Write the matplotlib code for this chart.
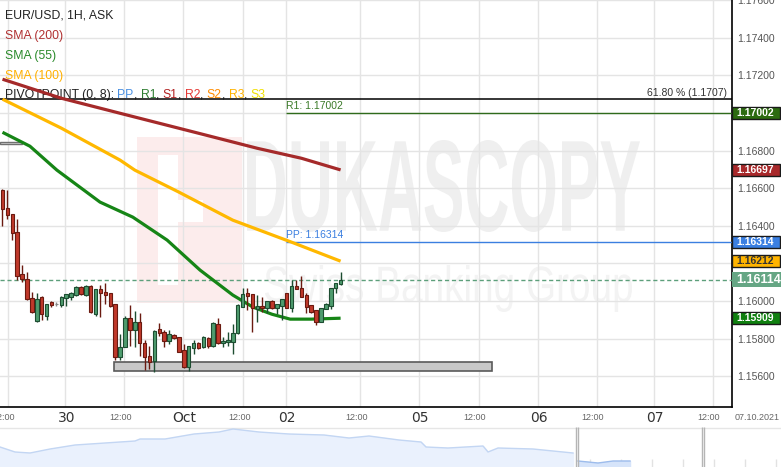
import matplotlib
matplotlib.use("Agg")
import matplotlib.pyplot as plt
from matplotlib.patches import Rectangle, PathPatch
from matplotlib.textpath import TextPath
from matplotlib.font_manager import FontProperties
import matplotlib.transforms as mtransforms

# hourly candles, EUR/USD 1H ask
opens = [1.16589, 1.16494, 1.16462, 1.16366, 1.16143, 1.16117, 1.16016, 1.15894, 1.16021, 1.15920,
         1.15995, 1.15984, 1.15979, 1.16016, 1.16021, 1.16032, 1.16074, 1.16032, 1.16080, 1.15931,
         1.16064, 1.16048, 1.16042, 1.15984, 1.15703, 1.15756, 1.15910, 1.15846, 1.15888, 1.15777,
         1.15708, 1.15681, 1.15851, 1.15835, 1.15788, 1.15819, 1.15809, 1.15740, 1.15650, 1.15750,
         1.15777, 1.15756, 1.15804, 1.15761, 1.15878, 1.15777, 1.15782, 1.15782, 1.15830, 1.15968,
         1.16042, 1.16037, 1.15958, 1.15973, 1.15963, 1.16000, 1.15963, 1.15973, 1.16042, 1.15963,
         1.16080, 1.16069, 1.16032, 1.15979, 1.15952, 1.15888, 1.15958, 1.15973, 1.16069, 1.16090]
highs = [1.16595, 1.16589, 1.16462, 1.16435, 1.16191, 1.16154, 1.16048, 1.16042, 1.16027, 1.15984,
         1.16000, 1.15995, 1.16027, 1.16037, 1.16048, 1.16080, 1.16080, 1.16085, 1.16085, 1.16064,
         1.16085, 1.16096, 1.16042, 1.15984, 1.15825, 1.15920, 1.15979, 1.15947, 1.15936, 1.15793,
         1.15761, 1.15846, 1.15883, 1.15846, 1.15846, 1.15825, 1.15809, 1.15772, 1.15761, 1.15793,
         1.15782, 1.15814, 1.15809, 1.15888, 1.15910, 1.15809, 1.15835, 1.15878, 1.15984, 1.16069,
         1.16069, 1.16037, 1.16032, 1.16021, 1.16000, 1.16005, 1.15984, 1.16011, 1.16042, 1.16112,
         1.16112, 1.16133, 1.16042, 1.15979, 1.15952, 1.15963, 1.15989, 1.16069, 1.16096, 1.16154]
lows = [1.16398, 1.16435, 1.16324, 1.16112, 1.16101, 1.16005, 1.15936, 1.15888, 1.15899, 1.15899,
        1.15968, 1.15973, 1.15968, 1.15973, 1.16005, 1.16027, 1.16032, 1.16027, 1.15936, 1.15920,
        1.15915, 1.15984, 1.15968, 1.15687, 1.15687, 1.15756, 1.15761, 1.15756, 1.15708, 1.15634,
        1.15639, 1.15623, 1.15814, 1.15756, 1.15772, 1.15798, 1.15729, 1.15644, 1.15628, 1.15719,
        1.15745, 1.15750, 1.15750, 1.15756, 1.15772, 1.15756, 1.15761, 1.15719, 1.15825, 1.15968,
        1.15952, 1.15835, 1.15888, 1.15942, 1.15936, 1.15958, 1.15931, 1.15899, 1.15963, 1.15942,
        1.16064, 1.16021, 1.15936, 1.15936, 1.15873, 1.15888, 1.15958, 1.15958, 1.16042, 1.16085]
closes = [1.16489, 1.16457, 1.16361, 1.16133, 1.16117, 1.16011, 1.15942, 1.16011, 1.15931, 1.15984,
          1.15979, 1.15984, 1.16021, 1.16037, 1.16042, 1.16074, 1.16037, 1.16080, 1.15942, 1.16064,
          1.16042, 1.16032, 1.15973, 1.15703, 1.15756, 1.15910, 1.15846, 1.15888, 1.15777, 1.15703,
          1.15676, 1.15841, 1.15830, 1.15788, 1.15825, 1.15804, 1.15729, 1.15650, 1.15761, 1.15777,
          1.15750, 1.15809, 1.15761, 1.15883, 1.15777, 1.15788, 1.15793, 1.15830, 1.15979, 1.16037,
          1.16027, 1.15963, 1.15973, 1.15963, 1.16000, 1.15963, 1.15984, 1.16011, 1.15963, 1.16080,
          1.16064, 1.16021, 1.15968, 1.15942, 1.15888, 1.15963, 1.15984, 1.16069, 1.16096, 1.16114]

# moving averages read at a few candle positions
sma200_idx = [0, 12, 24, 40, 52, 61, 69]
sma200_val = [1.17179, 1.17078, 1.16998, 1.16892, 1.16812, 1.16759, 1.16697]
sma100_idx = [0, 12, 24, 27, 36, 47, 59, 69]
sma100_val = [1.17073, 1.16919, 1.16749, 1.16696, 1.16579, 1.16430, 1.16313, 1.16212]
sma55_idx = [0, 5.6, 11.1, 19.9, 26.6, 33.6, 40.3, 47, 51.1, 55, 58.7, 63, 69]
sma55_val = [1.16897, 1.16823, 1.16696, 1.16526, 1.16446, 1.16324, 1.16165, 1.16032, 1.15968,
             1.15930, 1.15904, 1.15904, 1.15909]

pivot_start = 57.9
pp_level = 1.16314
r1_level = 1.17002
fib_level = 1.17073
last_price = 1.16114
zone = (22.8, 99.9, 1.15628, 1.15676)     # x0, x1, low, high
zone_small = (-0.6, 4.0, 1.16834, 1.16844)

price_ticks = [1.156, 1.158, 1.160, 1.162, 1.164, 1.166, 1.168, 1.170, 1.172, 1.174, 1.176]
time_ticks = [1.1, 12.8, 24.8, 36.8, 49.1, 57.9, 73.0, 85.0, 97.2, 109.3, 121.3, 133.0, 145.0]
time_labels = ["12:00", "30", "12:00", "Oct", "12:00", "02", "12:00", "05", "12:00", "06", "12:00", "07", "12:00"]

# navigator overview series (relative height)
nav_pos = [0, 15, 30, 50, 75, 105, 135, 140, 165, 194, 219, 233, 259, 289, 324, 349, 369, 399, 421,
           426, 448, 483, 488, 498, 533, 573]
nav_level = [20, 15, 14, 18, 22, 24, 26, 28, 28, 33, 35, 38, 35, 33, 32, 29, 31, 27, 25, 20, 19, 21,
             15, 19, 18, 14]
nav_pos2 = [578, 598, 613, 630]
nav_level2 = [6, 4, 6, 6]

RED = "#c0392b"
RED_EDGE = "#6a1a10"
GREEN = "#4e9c6e"
GREEN_EDGE = "#1d4d31"

plt.rcParams['font.family'] = ['Liberation Sans', 'DejaVu Sans']

fig = plt.figure(figsize=(7.81, 4.67), dpi=100)
ax = fig.add_axes([0, 60 / 467, 732 / 781, 407 / 467])
ax.set_xlim(-0.51, 148.88)
ax.set_ylim(1.154371, 1.175983)

# pixel frame (x from left, y from top) for watermark drawing
px = mtransforms.Affine2D().scale(1 / 100, -1 / 100).translate(0, 4.67) + fig.dpi_scale_trans


def text_in_box(s, box, color, weight):
    tp = TextPath((0, 0), s, size=100, prop=FontProperties(family='Liberation Sans', weight=weight))
    bb = tp.get_extents()
    x0, y0, x1, y1 = box
    tr = mtransforms.Affine2D().translate(-bb.x0, -bb.y0).scale((x1 - x0) / bb.width, -(y1 - y0) / bb.height).translate(x0, y1)
    ax.add_patch(PathPatch(tr.transform_path(tp), fc=color, ec='none', transform=px, zorder=0.5))


# watermark
ax.add_patch(Rectangle((137, 137), 105, 166, fc="#fcecec", ec='none', transform=px, zorder=0.4))
ax.add_patch(Rectangle((158, 155), 20, 130, fc="white", ec='none', transform=px, zorder=0.45))
ax.add_patch(Rectangle((178, 200), 25, 22, fc="white", ec='none', transform=px, zorder=0.45))
text_in_box("DUKASCOPY", (247, 140, 640, 232), "#efefef", 'bold')
text_in_box("Swiss Banking Group", (265, 265, 632, 312), "#f3f3f3", 'normal')

# grid (labels under the price tags are hidden, as on the platform)
ax.set_yticks(price_ticks)
ax.set_yticklabels(["" if v in (1.162, 1.170) else "%.5f" % v for v in price_ticks])
ax.set_xticks(time_ticks)
ax.set_xticklabels([])
ax.grid(True, color="#e4e4e4", lw=1)
ax.set_axisbelow(True)
ax.yaxis.tick_right()
ax.tick_params(axis='y', length=0, pad=4, labelsize=7.5, labelcolor="#555555")
ax.tick_params(axis='x', length=0)
for s in ['top', 'left']:
    ax.spines[s].set_visible(False)
for s in ['right', 'bottom']:
    ax.spines[s].set_color('black')
    ax.spines[s].set_linewidth(1.2)

# zones
ax.add_patch(Rectangle((zone[0], zone[2]), zone[1] - zone[0], zone[3] - zone[2],
                       fc="#c8c8c8", ec="#5a5a5a", lw=1.2, zorder=2))
ax.add_patch(Rectangle((zone_small[0], zone_small[2]), zone_small[1] - zone_small[0], zone_small[3] - zone_small[2],
                       fc="#e0e0e0", ec="#707070", lw=1, zorder=2))

# horizontal levels
ax.axhline(fib_level, color='black', lw=1.1, zorder=3)
ax.text(147.8, fib_level + 0.00008, "61.80 % (1.1707)", ha='right', va='bottom', fontsize=7.5, color="#333333")
ax.hlines(r1_level, pivot_start, 148.88, color="#2f6b1c", lw=1, zorder=3)
ax.text(pivot_start, r1_level + 0.00008, "R1: 1.17002", ha='left', va='bottom', fontsize=7.5, color="#3a7a28")
ax.hlines(pp_level, pivot_start, 148.88, color="#3b7fe0", lw=1, zorder=3)
ax.text(pivot_start, pp_level + 0.00008, "PP: 1.16314", ha='left', va='bottom', fontsize=7.5, color="#3b7fe0")
ax.axhline(last_price, color="#5d9f7b", lw=1, ls=(0, (3, 2)), zorder=3)

# moving averages
ax.plot(sma200_idx, sma200_val, color="#a52a2a", lw=2.3, zorder=4, solid_capstyle='butt')
ax.plot(sma100_idx, sma100_val, color="#ffb800", lw=2.3, zorder=4, solid_capstyle='butt')
ax.plot(sma55_idx, sma55_val, color="#168516", lw=2.3, zorder=4, solid_capstyle='butt')

# candles
for i in range(len(opens)):
    o, h, l, c = opens[i], highs[i], lows[i], closes[i]
    if c > o:
        fc, ec = GREEN, GREEN_EDGE
    elif c < o:
        fc, ec = RED, RED_EDGE
    else:
        fc, ec = "#999999", "#888888"
    ax.vlines(i, l, h, color=ec, lw=1, zorder=5)
    ax.bar(i, max(abs(c - o), 0.000005), bottom=min(o, c), width=0.72, color=fc, edgecolor=ec, lw=0.8, zorder=6)

# time labels
for t, lab in zip(time_ticks, time_labels):
    if lab == "12:00":
        ax.text(t - 0.8, -0.025, lab, transform=ax.get_xaxis_transform(), ha='center', va='center',
                fontsize=6.5, color="#666666")
    else:
        ax.text(t + 0.2, -0.027, lab, transform=ax.get_xaxis_transform(), ha='center', va='center',
                fontsize=10, color="#333333", family='Liberation Sans Narrow')
fig.text(757 / 781, 1 - 418 / 467, "07.10.2021", ha='center', va='center', fontsize=6.5, color="#666666")

# price tags on the right axis
yt = ax.get_yaxis_transform()
tags = [(r1_level, "1.17002", "#2c6b10", "white"),
        (sma200_val[-1], "1.16697", "#a8282a", "white"),
        (pp_level, "1.16314", "#3a7fe2", "white"),
        (sma100_val[-1], "1.16212", "#ffb400", "#333333"),
        (sma55_val[-1], "1.15909", "#0f800f", "white")]
pxy = (ax.get_ylim()[1] - ax.get_ylim()[0]) / 407
for val, lab, fc, tc in tags:
    ax.add_patch(Rectangle((1.0, val - 6 * pxy), 48 / 732, 12 * pxy, transform=yt, fc=fc,
                           ec="#1a1a1a", lw=1, clip_on=False, zorder=10))
    ax.text(1.0 + 4 / 732, val, lab, transform=yt, ha='left', va='center', fontsize=7.5,
            color=tc, fontweight='bold', clip_on=False, zorder=11)
ax.add_patch(Rectangle((1.0, last_price - 7.5 * pxy), 49 / 732, 15 * pxy, transform=yt, fc="#65a684",
                       ec='none', clip_on=False, zorder=10))
ax.text(1.0 + 4 / 732, last_price, "1.16114", transform=yt, ha='left', va='center', fontsize=9,
        color="white", fontweight='bold', clip_on=False, zorder=11)

# legend text top-left
ax.text(5, 15, "EUR/USD, 1H, ASK", transform=px, fontsize=8.8, color="#222222", va='center')
ax.text(5, 36, "SMA (200)", transform=px, fontsize=8.8, color="#b03030", va='center')
ax.text(5, 56, "SMA (55)", transform=px, fontsize=8.8, color="#2a8a2a", va='center')
ax.text(5, 76, "SMA (100)", transform=px, fontsize=8.8, color="#ffb000", va='center')
pieces = [("PIVOTPOINT (0, 8): ", "#222222"), ("PP", "#4a90e2"), (", ", "#222222"), ("R1", "#2e7d32"),
          (", ", "#222222"), ("S1", "#b22222"), (", ", "#222222"), ("R2", "#e53935"), (", ", "#222222"),
          ("S2", "#ff8c00"), (", ", "#222222"), ("R3", "#ffb300"), (", ", "#222222"), ("S3", "#f0e000")]
prev = ax.text(5, 95, pieces[0][0], transform=px, fontsize=8.8, color=pieces[0][1], va='center', zorder=2)
for s, c in pieces[1:]:
    prev = ax.annotate(s, xy=(1, 0), xycoords=prev, va='bottom', ha='left', fontsize=8.8, color=c, zorder=2)

# navigator at the bottom
nav = fig.add_axes([0, 0, 1, 40 / 467])
nav.set_xlim(0, 781)
nav.set_ylim(0, 40)
nav.axis('off')
for gx in range(32, 781, 31):
    nav.vlines(gx, 0, 8, color="#e2e2e2", lw=1)
nav.fill_between(nav_pos, nav_level, 0, color="#eaf1fd", zorder=2)
nav.plot(nav_pos, nav_level, color="#c3d6f3", lw=1, zorder=3)
nav.fill_between(nav_pos2, nav_level2, 0, color="#d6e4fa", zorder=2)
nav.plot(nav_pos2, nav_level2, color="#9dbcec", lw=1, zorder=3)
nav.axhline(39.5, color="#e6e6e6", lw=1)
for hx in [577, 703]:
    nav.vlines([hx - 1, hx + 1], 0, 40, color="#b5b5b5", lw=1, zorder=4)

fig.savefig("out.png", dpi=100)
